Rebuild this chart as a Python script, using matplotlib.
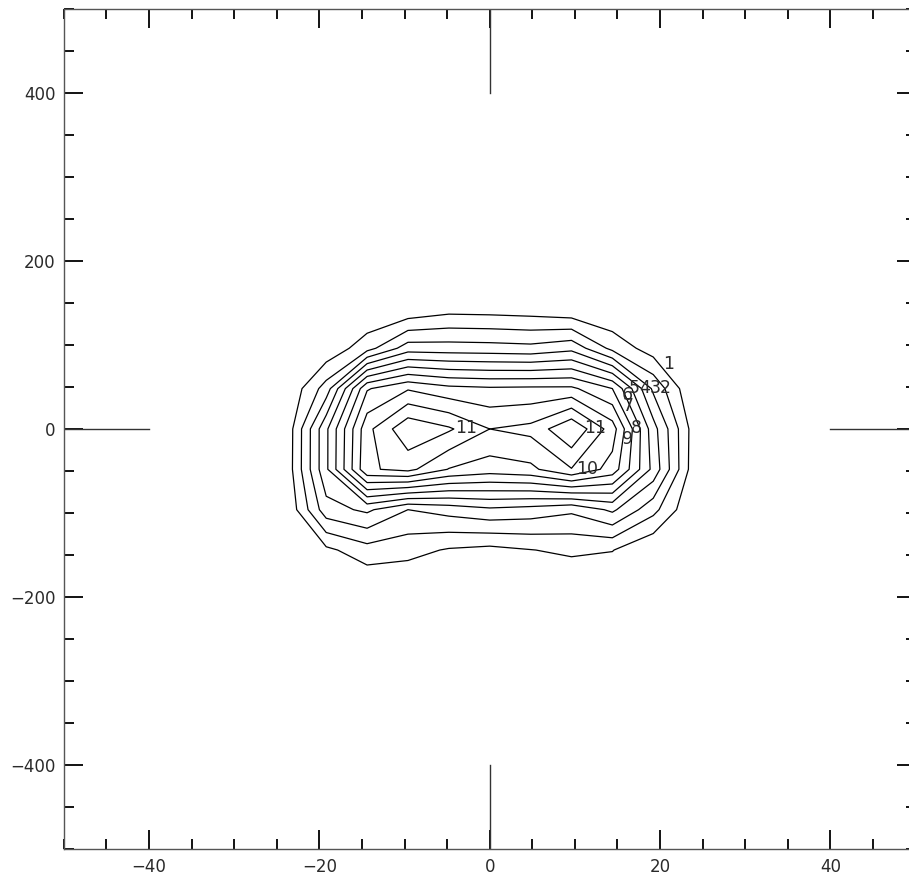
import numpy as np
import matplotlib
matplotlib.use("Agg")
import matplotlib.pyplot as plt
from matplotlib.ticker import MultipleLocator

# grid coordinates
x_grid = [-24.0, -19.2, -14.4, -9.6, -4.8, 0.0, 4.8, 9.6, 14.4, 19.2, 24.0]
y_grid = [144.0, 96.0, 48.0, 0.0, -48.0, -96.0, -144.0, -192.0]

# field values (rows follow y_grid, columns follow x_grid)
z_row_144 = [0, 0, 0, 0.1, 0.55, 0.5, 0.4, 0.1, 0, 0, 0]
z_row_96 = [0, 0.24, 1.59, 3.5, 3.45, 3.4, 3.3, 3.7, 1.7, 0.5, 0]
z_row_48 = [0, 2.45, 7.9, 8.9, 8.3, 8.15, 8.2, 8.2, 7.0, 2.8, 0]
z_row_0 = [0.16, 4.8, 9.7, 11.8, 11.14, 10.0, 10.29, 11.92, 9.5, 4.4, 0.5]
z_row_m48 = [0.2, 4.8, 9.86, 10.29, 8.95, 8.5, 8.76, 9.95, 8.6, 4.7, 0.4]
z_row_m96 = [0, 3.6, 4.2, 3.0, 3.4, 3.8, 3.6, 3.2, 4.2, 2.33, 0]
z_row_m144 = [0, 0.77, 1.59, 1.35, 0.9, 0.7, 0.97, 1.2, 1.04, 0.08, 0]
z_row_m192 = [0, 0, 0, 0, 0, 0, 0, 0, 0, 0, 0]

levels = [1, 2, 3, 4, 5, 6, 7, 8, 9, 10, 11]

# contour level labels (text and where they sit)
label_text = ['1', '5', '4', '3', '2', '6', '7', '8', '9', '10', '11', '11']
label_x = [20.97, 16.95, 18.16, 19.41, 20.62, 16.18, 16.24, 17.26, 16.12, 11.39, -2.81, 12.39]
label_y = [76.7, 48.4, 48.4, 48.4, 48.4, 40.4, 27.6, 0.8, -11.9, -47.6, 0.8, 0.8]

xticks_major = [-40, -20, 0, 20, 40]
yticks_major = [-400, -200, 0, 200, 400]

plt.rcParams['font.family'] = ['DejaVu Sans']

fig = plt.figure(figsize=(9.09, 8.80), dpi=100)
ax = fig.add_axes([0.0703, 0.0348, 0.9369, 0.9555])

Z = np.array([z_row_144, z_row_96, z_row_48, z_row_0,
              z_row_m48, z_row_m96, z_row_m144, z_row_m192])
X, Y = np.meshgrid(x_grid, y_grid)

cs = ax.contour(X, Y, Z, levels=levels, colors='k', linewidths=0.9)

text_col = '#2a2a2a'
for s, lx, ly in zip(label_text, label_x, label_y):
    ax.text(lx, ly, s, ha='center', va='center', fontsize=12.5,
            color=text_col)

# cross-hair marks
cross_col = '#333333'
ax.plot([-50, -40], [0, 0], color=cross_col, lw=1.0)
ax.plot([40, 50], [0, 0], color=cross_col, lw=1.0)
ax.plot([0, 0], [400, 500], color=cross_col, lw=1.0)
ax.plot([0, 0], [-400, -500], color=cross_col, lw=1.0)

ax.set_xlim(-50, 50)
ax.set_ylim(-500, 500)
ax.set_xticks(xticks_major)
ax.set_yticks(yticks_major)
ax.xaxis.set_minor_locator(MultipleLocator(5))
ax.yaxis.set_minor_locator(MultipleLocator(50))
ax.tick_params(which='both', direction='in', top=True, right=True,
               color='k', labelsize=12, labelcolor=text_col)
ax.tick_params(which='major', length=13.5, width=1.3, pad=6)
ax.tick_params(which='minor', length=7, width=1.3)
for sp in ax.spines.values():
    sp.set_linewidth(1.0)
    sp.set_color('#555555')

fig.savefig('out.png', dpi=100)
